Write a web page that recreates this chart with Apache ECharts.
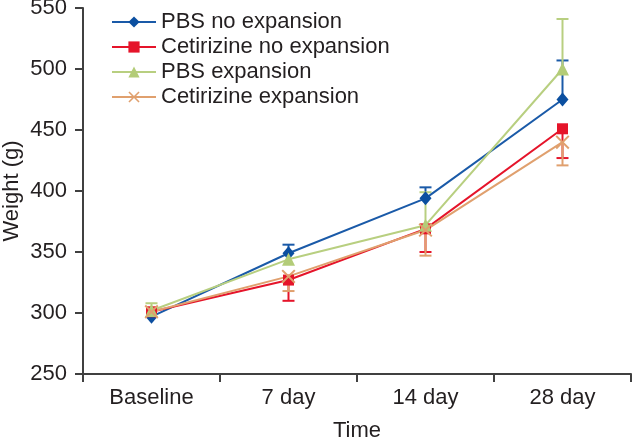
<!DOCTYPE html>
<html><head><meta charset="utf-8">
<script src="https://cdn.jsdelivr.net/npm/echarts@6/dist/echarts.min.js"></script>
<style>html,body{margin:0;padding:0;background:#fff}#c{width:633px;height:444px}</style>
</head><body><div id="c"></div>
<script>
const categories = ['Baseline', '7 day', '14 day', '28 day'];
const seriesNames = ['PBS no expansion', 'Cetirizine no expansion', 'PBS expansion', 'Cetirizine expansion'];
const pbsNoExp = [297, 349, 394, 475];
const cetNoExp = [301, 327, 369, 451];
const pbsExp = [302, 344, 372, 500];
const cetExp = [301, 330, 368, 440];
// error bar end values (one-sided)
const pbsNoExpErr = [null, 356, 403, 507];
const cetNoExpErr = [null, 310, 350, 427];
const pbsExpErr = [308, null, 399, 541];
const cetExpErr = [null, 318, 347, 421];
const yTicks = [250, 300, 350, 400, 450, 500, 550];

const colors = ['#1a5aa8', '#e5142a', '#b8cf80', '#e0a06e'];
const markerColors = ['#0b4fa0', '#e5142a', '#b3cc78', '#e0a06e'];
const symbols = ['diamond', 'rect', 'triangle',
  'path://M0,1L1,0L5,4L9,0L10,1L6,5L10,9L9,10L5,6L1,10L0,9L4,5Z'];
const symbolSizes = [[12, 14], 11, 13, 14];
const values = [pbsNoExp, cetNoExp, pbsExp, cetExp];
const errs = [pbsNoExpErr, cetNoExpErr, pbsExpErr, cetExpErr];

const font = 'Arial, "Liberation Sans", sans-serif';
const txt = '#231f20';
const fs = 22;

const series = [];
errs.forEach((e, i) => {
  series.push({
    type: 'custom', name: seriesNames[i] + ' err', z: 1, silent: true,
    data: categories.map((c, k) => [k, values[i][k], e[k]]),
    renderItem: function (params, api) {
      const end = api.value(2);
      if (end === null || end === undefined || isNaN(end)) return;
      const p0 = api.coord([api.value(0), api.value(1)]);
      const p1 = api.coord([api.value(0), end]);
      const hw = 6;
      const st = { stroke: colors[i], lineWidth: 2 };
      return { type: 'group', children: [
        { type: 'line', shape: { x1: p0[0], y1: p0[1], x2: p1[0], y2: p1[1] }, style: st },
        { type: 'line', shape: { x1: p1[0] - hw, y1: p1[1], x2: p1[0] + hw, y2: p1[1] }, style: st }
      ]};
    }
  });
});
values.forEach((v, i) => {
  series.push({
    type: 'line', name: seriesNames[i], data: v, z: 3,
    symbol: symbols[i], symbolSize: symbolSizes[i],
    lineStyle: { color: colors[i], width: 2 },
    itemStyle: { color: markerColors[i] },
    emphasis: { disabled: true }
  });
});

const chart = echarts.init(document.getElementById('c'));
chart.setOption({
  animation: false,
  backgroundColor: '#fff',
  grid: { left: 83, right: 2, top: 8, bottom: 70, containLabel: false, outerBoundsMode: 'none' },
  legend: {
    data: seriesNames, orient: 'vertical', left: 106, top: 5,
    itemWidth: 44, itemHeight: 14, itemGap: 1,
    textStyle: { fontFamily: font, fontSize: fs, color: txt, lineHeight: 24 }
  },
  xAxis: {
    type: 'category', data: categories, boundaryGap: true,
    name: 'Time', nameLocation: 'middle', nameGap: 46,
    nameTextStyle: { fontFamily: font, fontSize: fs, color: txt },
    axisLine: { lineStyle: { color: '#404040', width: 2 } },
    axisTick: { show: true, length: 8, lineStyle: { color: '#404040', width: 2 } },
    axisLabel: { fontFamily: font, fontSize: fs, color: txt, margin: 13 },
    splitLine: { show: false }
  },
  yAxis: {
    type: 'value', min: yTicks[0], max: yTicks[yTicks.length - 1], interval: 50,
    name: 'Weight (g)', nameLocation: 'middle', nameGap: 60, nameRotate: 90,
    nameMoveOverlap: false,
    nameTextStyle: { fontFamily: font, fontSize: fs, color: txt },
    axisLine: { show: true, lineStyle: { color: '#404040', width: 2 } },
    axisTick: { show: true, length: 8, lineStyle: { color: '#404040', width: 2 } },
    axisLabel: { fontFamily: font, fontSize: fs, color: txt, margin: 16 },
    splitLine: { show: false }
  },
  series: series
});
</script></body></html>
